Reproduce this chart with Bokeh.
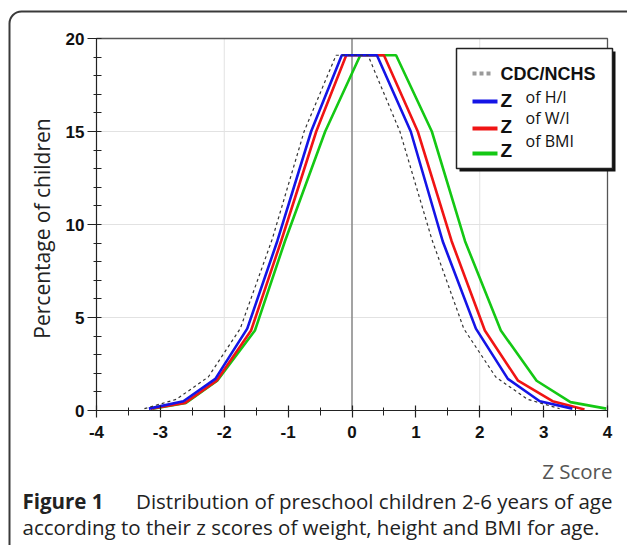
import math
from bokeh.plotting import figure
from bokeh.models import (Range1d, SingleIntervalTicker, Label, BoxAnnotation, LinearAxis,
                          CustomJSTickFormatter)
from bokeh.embed import file_html
from bokeh.resources import INLINE

# ---- data ----
cdc_x = [-3.25, -2.75, -2.25, -1.75, -1.25, -0.75, -0.25, 0.25, 0.75, 1.25, 1.75, 2.25, 2.75, 3.25]
cdc_y = [0.1, 0.6, 1.8, 4.4, 9.2, 15.0, 19.1, 19.1, 15.0, 9.2, 4.4, 1.8, 0.6, 0.1]

hi_x = [-3.18, -2.64, -2.14, -1.64, -1.17, -0.64, -0.16, 0.39, 0.92, 1.42, 1.94, 2.44, 2.94, 3.45]
hi_y = [0.1, 0.5, 1.7, 4.4, 9.1, 15.0, 19.1, 19.1, 15.0, 9.1, 4.4, 1.7, 0.5, 0.1]

wi_x = [-3.15, -2.62, -2.12, -1.58, -1.11, -0.56, -0.09, 0.50, 1.03, 1.56, 2.08, 2.60, 3.14, 3.64]
wi_y = [0.1, 0.4, 1.6, 4.3, 9.1, 15.0, 19.1, 19.1, 15.0, 9.1, 4.3, 1.6, 0.5, 0.05]

bmi_x = [-3.12, -2.60, -2.11, -1.52, -1.05, -0.42, 0.13, 0.69, 1.25, 1.77, 2.33, 2.89, 3.42, 3.98]
bmi_y = [0.1, 0.4, 1.6, 4.3, 9.1, 15.0, 19.1, 19.1, 15.0, 9.1, 4.3, 1.6, 0.45, 0.1]

x_min, x_max = -4, 4
y_min, y_max = 0, 20
x_grid = [-2, 2]
y_grid = [5, 10, 15]

legend_main = ["CDC/NCHS", "Z", "Z", "Z"]
legend_sub = ["of  H/I", "of W/I", "of BMI"]
x_title = "Z Score"
y_title = "Percentage of children"
caption_bold = "Figure 1"
caption_1 = "Distribution of preschool children 2-6 years of age"
caption_2 = "according to their z scores of weight, height and BMI for age."

BLUE = "#1414e6"
RED = "#f01414"
GREEN = "#14c814"

# ---- layout (pixels) ----
W, H = 627, 545
FX0, FX1 = 96, 607      # plot area left / right
FY1, FY0 = 38, 410      # plot area top / bottom
sx = (FX1 - FX0) / (x_max - x_min)
sy = (FY0 - FY1) / (y_max - y_min)
zr = Range1d(x_min - FX0 / sx, x_max + (W - FX1) / sx)
pr = Range1d(y_min - (H - FY0) / sy, y_max + FY1 / sy)

p = figure(width=W, height=H, output_backend="svg", toolbar_location=None,
           x_range=Range1d(0, W), y_range=Range1d(H, 0),
           x_axis_type=None, y_axis_type=None, min_border=0)
p.min_border_left = p.min_border_right = p.min_border_top = p.min_border_bottom = 0
p.outline_line_color = None
p.background_fill_color = "white"
p.border_fill_color = "white"
p.extra_x_ranges = {"z": zr}
p.extra_y_ranges = {"z": pr}
Z = dict(x_range_name="z", y_range_name="z")

# grid lines
p.segment(x0=x_grid, x1=x_grid, y0=[y_min] * len(x_grid), y1=[y_max] * len(x_grid),
          line_color="#e2e2e2", line_width=1, **Z)
p.segment(x0=[x_min] * len(y_grid), x1=[x_max] * len(y_grid), y0=y_grid, y1=y_grid,
          line_color="#e2e2e2", line_width=1, **Z)
p.segment(x0=[0], x1=[0], y0=[y_min], y1=[y_max], line_color="#8c8c8c", line_width=1.6, **Z)
# top and right frame
p.line([x_min, x_max, x_max], [y_max, y_max, y_min], line_color="#555555", line_width=1.3, **Z)

# axes at fixed locations
fmt = CustomJSTickFormatter(code="return tick.toString();")
xa = LinearAxis(fixed_location=y_min, bounds=(x_min, x_max),
                ticker=SingleIntervalTicker(interval=1, num_minor_ticks=2), formatter=fmt, **Z)
ya = LinearAxis(fixed_location=x_min, bounds=(y_min, y_max),
                ticker=SingleIntervalTicker(interval=5, num_minor_ticks=5), formatter=fmt, **Z)
for ax in (xa, ya):
    ax.axis_line_color = "#222222"
    ax.axis_line_width = 1.2
    ax.major_tick_line_color = "#222222"
    ax.minor_tick_line_color = "#222222"
    ax.major_tick_line_width = 1.2
    ax.minor_tick_line_width = 1.0
    ax.major_label_text_font = "Liberation Sans"
    ax.major_label_text_font_style = "bold"
    ax.major_label_text_font_size = "17px"
    ax.major_label_text_color = "#111111"
xa.major_tick_in = 5
xa.major_tick_out = 7
xa.minor_tick_in = 3
xa.minor_tick_out = 5
xa.major_label_standoff = 8
ya.major_tick_in = 0
ya.major_tick_out = 9
ya.minor_tick_in = 5
ya.minor_tick_out = 3
ya.major_label_standoff = 3
p.add_layout(xa, "below")
p.add_layout(ya, "left")

# series
p.line(bmi_x, bmi_y, line_color=GREEN, line_width=2.6, **Z)
p.line(wi_x, wi_y, line_color=RED, line_width=2.6, **Z)
p.line(hi_x, hi_y, line_color=BLUE, line_width=2.6, **Z)
p.line(cdc_x, cdc_y, line_color="#333333", line_width=1.2, line_dash="3 3", **Z)

# outer rounded frame
p.add_layout(BoxAnnotation(left=9, right=W + 60, top=11, bottom=H + 60,
                           fill_alpha=0, line_color="#3a3a3a", line_alpha=1.0,
                           line_width=2, border_radius=12))

# legend box with shadow
p.quad(left=[459], right=[615], top=[51], bottom=[171], fill_color="#111111", line_alpha=0)
p.quad(left=[456], right=[612], top=[48], bottom=[168], fill_color="white",
       line_color="#222222", line_width=1.5)
p.quad(left=[472, 479, 486], right=[476, 483, 490], top=[71, 71, 71], bottom=[75, 75, 75],
       fill_color="#9a9a9a", line_alpha=0)
p.quad(left=[472, 472, 472], right=[497, 497, 497], top=[99, 126, 151], bottom=[103, 130, 155],
       fill_color=[BLUE, RED, GREEN], line_alpha=0)

def label(x, y, text, size, font="Open Sans", style="normal", color="#111111",
          align="left", angle=0.0):
    p.add_layout(Label(x=x, y=y, text=text, text_font=font, text_font_style=style,
                       text_font_size=size, text_color=color, text_align=align,
                       text_baseline="middle", angle=angle))

label(500, 73, legend_main[0], "18px", font="Liberation Sans", style="bold")
for yy, t in zip((100, 126, 150), legend_main[1:]):
    label(500, yy, t, "19px", font="Liberation Sans", style="bold")
for yy, t in zip((96, 117, 140), legend_sub):
    label(525, yy, t, "16px")

label(41, 228, y_title, "21px", color="#222222", align="center", angle=math.pi / 2)
label(612, 470, x_title, "20.5px", color="#555555", align="right")
label(22, 500, caption_bold, "20.5px", style="bold", color="#222222")
label(612, 500, caption_1, "20.5px", color="#222222", align="right")
label(22, 526, caption_2, "20.5px", color="#222222")

open("out.html", "w").write(file_html(p, INLINE))
